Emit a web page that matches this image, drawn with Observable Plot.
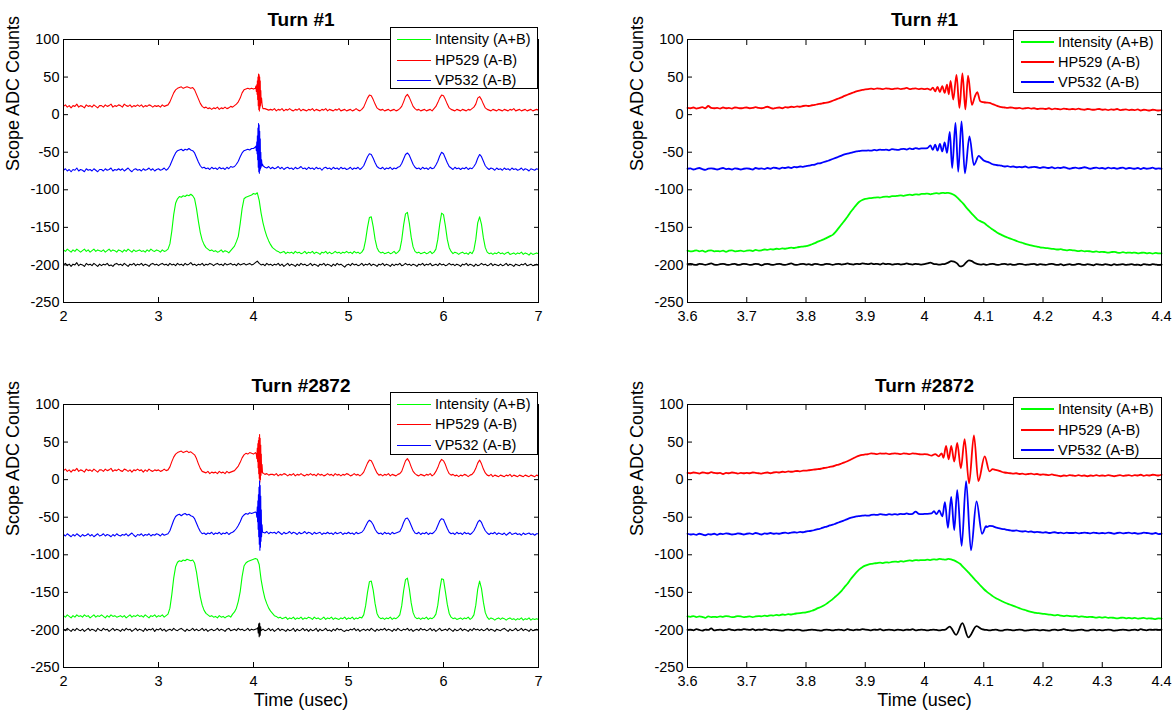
<!DOCTYPE html>
<html>
<head>
<meta charset="utf-8">
<script src="https://cdn.jsdelivr.net/npm/d3@7"></script>
<script src="https://cdn.jsdelivr.net/npm/@observablehq/plot@0.6"></script>
<style>
html, body { margin: 0; padding: 0; background: #fff; }
#root { position: relative; width: 1172px; height: 711px; overflow: hidden; font-family: "Liberation Sans", Arial, Helvetica, sans-serif; }
#root svg.panel { position: absolute; }
.legend { position: absolute; background: #fff; border: 1px solid #000; box-sizing: border-box; font-size: 14.5px; color: #000; }
.legend svg { position: absolute; left: 0; top: 0; }
.legend .lab { position: absolute; line-height: 20px; white-space: nowrap; }
</style>
</head>
<body>
<div id="root"></div>
<script>
// ---------- ticks, labels ----------
const yTicks = [-250, -200, -150, -100, -50, 0, 50, 100];
const wideTicks = [2, 3, 4, 5, 6, 7];
const narrowTicks = [3.6, 3.7, 3.8, 3.9, 4.0, 4.1, 4.2, 4.3, 4.4];
const seriesNames = ["Intensity (A+B)", "HP529 (A-B)", "VP532 (A-B)"];
const titles = ["Turn #1", "Turn #1", "Turn #2872", "Turn #2872"];

// scope sampling grids (usec)
const wideGrid = {start: 2, step: 0.02};
const narrowGrid = {start: 3.6, step: 0.005};

// ================= Turn #1, 2..7 usec =================
const redWide1 = [
 11,13,10,12,9,12,11,14,10,12,
 11,9,13,11,12,10,13,11,9,12,
 12,10,13,11,12,14,10,12,11,13,
 12,10,14,12,11,13,10,12,11,13,
 11,13,10,12,11,13,12,10,12,11,
 12,10,13,11,12,13,17,23,29,33,
 35,36,37,35,36,37,36,35,36,33,
 27,21,15,11,9,10,8,9,7,9,
 8,10,7,9,8,10,8,9,11,10,
 12,14,17,22,29,33,34,35,34,35,
 34,35,36,20,8,8,8,7,6,7,
 6,8,5,7,6,8,5,7,6,8,
 6,5,7,6,8,5,7,6,5,7,
 6,8,5,7,6,5,7,6,8,5,
 7,6,5,7,6,8,5,6,7,5,
 6,7,5,6,8,6,5,7,10,16,
 22,26,25,20,14,9,7,6,7,5,
 6,7,5,6,7,5,6,8,11,17,
 24,27,23,17,11,8,6,7,5,6,
 7,5,6,7,5,8,11,16,22,26,
 25,20,14,9,7,6,5,7,6,5,
 7,6,5,7,6,8,10,14,22,24,
 20,14,9,7,6,5,7,6,5,7,
 6,5,7,6,5,7,6,8,5,6,
 7,5,6,7,5,6,7,5,6,7,
 6];
const redWide1Burst = [[4.025,38],[4.03,31],[4.035,40],[4.038,27],[4.041,45],[4.044,20],[4.047,50],[4.05,12],[4.053,54],[4.056,7],[4.059,53],[4.062,5],[4.065,50],[4.068,9],[4.071,45],[4.074,12],[4.077,32],[4.08,16],[4.085,22],[4.09,14],[4.095,10]];

const blueWide1 = [
 -74,-72,-75,-73,-76,-73,-74,-71,-75,-73,
 -74,-76,-72,-74,-73,-75,-72,-74,-76,-73,
 -73,-75,-72,-74,-73,-71,-75,-73,-74,-72,
 -74,-72,-75,-73,-71,-74,-76,-73,-72,-74,
 -73,-75,-72,-74,-73,-71,-74,-72,-75,-73,
 -72,-74,-73,-71,-74,-72,-68,-62,-56,-51,
 -48,-47,-46,-48,-46,-47,-45,-47,-48,-51,
 -57,-63,-68,-71,-70,-72,-71,-73,-70,-72,
 -71,-73,-70,-72,-71,-73,-70,-72,-69,-70,
 -69,-66,-62,-56,-51,-48,-47,-46,-47,-45,
 -45,-43,-30,-50,-70,-68,-70,-71,-69,-72,
 -70,-72,-71,-69,-72,-70,-73,-71,-70,-72,
 -71,-73,-70,-72,-71,-69,-72,-71,-73,-70,
 -72,-71,-73,-70,-72,-71,-74,-71,-70,-72,
 -71,-73,-70,-72,-71,-73,-70,-72,-71,-73,
 -72,-70,-73,-71,-72,-70,-73,-71,-68,-62,
 -56,-52,-53,-58,-64,-69,-71,-72,-70,-73,
 -71,-72,-70,-73,-71,-72,-70,-69,-65,-59,
 -53,-51,-54,-60,-66,-70,-72,-71,-73,-70,
 -72,-71,-73,-70,-72,-71,-67,-62,-55,-50,
 -52,-58,-64,-69,-71,-73,-70,-72,-71,-73,
 -71,-72,-70,-73,-71,-72,-69,-65,-58,-53,
 -56,-62,-68,-71,-73,-71,-72,-74,-71,-73,
 -72,-74,-71,-73,-72,-74,-71,-73,-72,-74,
 -73,-71,-74,-72,-73,-75,-72,-73,-74,-72,
 -73];
const blueWide1Burst = [[4.025,-42],[4.03,-48],[4.035,-36],[4.038,-52],[4.041,-28],[4.044,-60],[4.047,-18],[4.05,-70],[4.053,-12],[4.056,-76],[4.059,-14],[4.062,-78],[4.065,-22],[4.068,-74],[4.071,-32],[4.074,-72],[4.077,-50],[4.08,-70],[4.085,-60],[4.09,-68],[4.095,-66]];

const greenWide1 = [
 -180,-182,-179,-181,-183,-180,-182,-179,-181,-183,
 -181,-179,-182,-180,-183,-181,-179,-182,-180,-181,
 -182,-180,-183,-181,-179,-182,-180,-181,-183,-180,
 -181,-183,-180,-182,-179,-181,-183,-180,-182,-181,
 -180,-182,-181,-183,-180,-182,-179,-181,-182,-180,
 -181,-183,-180,-182,-181,-179,-172,-155,-133,-118,
 -112,-109,-110,-108,-109,-107,-108,-106,-108,-112,
 -125,-142,-157,-167,-173,-177,-179,-181,-180,-182,
 -181,-183,-182,-180,-183,-181,-182,-184,-181,-178,
 -175,-169,-162,-145,-125,-112,-110,-109,-108,-107,
 -105,-106,-104,-114,-131,-144,-154,-162,-168,-173,
 -177,-179,-181,-182,-184,-183,-182,-185,-183,-184,
 -183,-185,-182,-184,-183,-185,-184,-182,-185,-183,
 -184,-182,-185,-183,-184,-186,-183,-184,-182,-185,
 -183,-185,-184,-182,-184,-183,-185,-183,-184,-182,
 -184,-183,-185,-182,-184,-183,-185,-183,-179,-167,
 -150,-137,-136,-149,-166,-177,-182,-184,-183,-185,
 -184,-183,-185,-184,-182,-185,-183,-180,-167,-147,
 -132,-130,-144,-163,-176,-182,-184,-183,-185,-184,
 -183,-185,-184,-182,-185,-183,-179,-166,-146,-131,
 -133,-148,-166,-177,-182,-185,-183,-184,-186,-184,
 -183,-185,-184,-186,-183,-185,-180,-166,-144,-136,
 -146,-164,-177,-183,-185,-184,-186,-184,-185,-183,
 -185,-184,-186,-184,-183,-186,-185,-184,-186,-184,
 -185,-183,-186,-184,-185,-187,-184,-186,-185,-184,
 -185];

const blackWide1 = [
 -200,-198,-201,-199,-202,-199,-200,-197,-201,-199,
 -200,-202,-198,-200,-199,-201,-198,-200,-202,-199,
 -201,-199,-200,-198,-201,-200,-202,-199,-198,-200,
 -199,-201,-198,-200,-202,-199,-200,-198,-201,-199,
 -200,-198,-201,-199,-200,-202,-199,-198,-200,-199,
 -201,-199,-198,-200,-199,-201,-198,-200,-199,-201,
 -198,-200,-199,-201,-198,-200,-199,-197,-200,-199,
 -201,-199,-200,-198,-201,-199,-200,-198,-199,-201,
 -199,-198,-200,-199,-201,-198,-200,-199,-198,-200,
 -199,-201,-198,-200,-199,-198,-200,-199,-198,-200,
 -199,-197,-195,-198,-200,-199,-201,-198,-200,-199,
 -201,-199,-200,-198,-201,-199,-202,-200,-198,-201,
 -199,-200,-202,-199,-201,-198,-200,-199,-201,-200,
 -198,-201,-199,-200,-202,-199,-200,-198,-201,-199,
 -200,-202,-199,-201,-198,-200,-199,-201,-203,-200,
 -199,-201,-198,-200,-199,-201,-200,-198,-201,-199,
 -200,-198,-201,-199,-200,-202,-199,-200,-198,-201,
 -199,-200,-202,-199,-201,-199,-200,-198,-201,-200,
 -198,-200,-199,-201,-199,-200,-202,-199,-200,-198,
 -201,-199,-200,-198,-201,-200,-199,-201,-198,-200,
 -199,-201,-200,-198,-200,-199,-201,-199,-200,-202,
 -199,-200,-198,-201,-199,-200,-202,-199,-201,-200,
 -198,-200,-199,-201,-200,-198,-201,-199,-200,-201,
 -199,-201,-200,-198,-201,-199,-200,-202,-199,-200,
 -201,-199,-200,-198,-201,-200,-199,-201,-200,-199,
 -200];

// ================= Turn #2872, 2..7 usec =================
const redWide2 = [
 12,14,11,13,10,13,12,15,11,13,
 12,10,14,12,13,11,14,12,10,13,
 13,11,14,12,13,15,11,13,12,14,
 12,11,14,13,11,13,10,13,12,14,
 12,13,10,13,11,14,12,11,13,12,
 13,11,12,14,12,13,17,24,30,34,
 36,37,38,36,37,38,36,37,35,33,
 28,21,15,11,10,9,11,8,10,9,
 10,8,11,9,10,8,11,9,10,11,
 12,15,18,23,29,33,35,34,36,35,
 34,36,30,15,8,9,7,8,6,7,
 7,6,8,5,7,6,8,7,5,7,
 6,8,5,7,6,8,6,5,7,6,
 8,6,7,5,8,6,7,5,6,8,
 6,7,5,8,6,7,5,7,6,8,
 7,5,6,8,6,7,5,7,10,16,
 22,26,25,20,14,9,6,7,5,7,
 6,8,5,7,6,5,7,8,11,18,
 25,28,24,17,11,8,6,5,7,6,
 5,7,6,8,5,7,11,16,23,27,
 25,20,13,8,6,7,5,6,4,6,
 5,7,6,4,6,7,10,15,22,26,
 21,14,9,6,5,7,4,6,5,4,
 6,5,4,6,5,7,4,6,5,4,
 6,5,4,6,5,4,6,5,4,6,
 5];
const redWide2Burst = [[4.03,34],[4.035,28],[4.04,42],[4.043,24],[4.046,48],[4.049,16],[4.052,52],[4.055,8],[4.058,56],[4.061,2],[4.064,60],[4.067,-3],[4.07,55],[4.073,0],[4.076,46],[4.079,6],[4.082,34],[4.085,10],[4.09,20],[4.095,9]];

const blueWide2 = [
 -73,-75,-72,-74,-76,-73,-75,-72,-74,-76,
 -73,-75,-74,-72,-75,-73,-76,-74,-72,-75,
 -74,-72,-75,-73,-74,-76,-73,-75,-72,-74,
 -75,-73,-74,-72,-75,-73,-71,-74,-76,-73,
 -74,-72,-75,-73,-74,-72,-75,-73,-74,-72,
 -73,-75,-72,-74,-73,-72,-68,-61,-54,-49,
 -47,-46,-48,-46,-45,-47,-46,-48,-49,-52,
 -58,-64,-69,-72,-71,-73,-71,-72,-70,-73,
 -71,-72,-70,-73,-71,-72,-70,-73,-71,-70,
 -68,-65,-61,-56,-50,-47,-45,-46,-44,-45,
 -44,-43,-35,-60,-72,-70,-71,-69,-72,-70,
 -71,-70,-72,-69,-71,-73,-70,-72,-71,-69,
 -72,-70,-71,-73,-70,-72,-71,-69,-72,-70,
 -71,-73,-70,-72,-71,-70,-73,-71,-72,-70,
 -72,-71,-73,-70,-72,-71,-70,-73,-71,-72,
 -70,-72,-71,-73,-70,-72,-71,-70,-67,-62,
 -57,-54,-56,-60,-66,-70,-72,-71,-73,-70,
 -72,-71,-73,-70,-72,-71,-70,-69,-64,-57,
 -52,-51,-55,-61,-67,-71,-72,-70,-73,-71,
 -72,-70,-73,-71,-72,-70,-67,-61,-55,-52,
 -53,-59,-65,-70,-72,-71,-73,-70,-72,-71,
 -73,-70,-72,-71,-73,-71,-68,-63,-57,-54,
 -57,-63,-68,-71,-73,-71,-72,-70,-73,-71,
 -72,-73,-71,-74,-72,-70,-73,-72,-71,-73,
 -72,-74,-71,-73,-72,-71,-73,-72,-74,-72,
 -72];
const blueWide2Burst = [[4.03,-44],[4.035,-50],[4.04,-36],[4.043,-56],[4.046,-28],[4.049,-66],[4.052,-20],[4.055,-76],[4.058,-10],[4.061,-86],[4.064,-2],[4.067,-94],[4.07,-8],[4.073,-90],[4.076,-22],[4.079,-82],[4.082,-40],[4.085,-76],[4.09,-60],[4.095,-70]];

const greenWide2 = [
 -181,-183,-180,-182,-184,-181,-183,-180,-182,-181,
 -183,-180,-182,-181,-184,-182,-180,-183,-181,-182,
 -180,-182,-184,-181,-183,-180,-182,-181,-183,-182,
 -181,-183,-181,-184,-182,-180,-183,-181,-182,-180,
 -182,-181,-183,-180,-182,-184,-181,-182,-180,-183,
 -181,-182,-180,-183,-181,-179,-171,-153,-131,-116,
 -110,-108,-109,-107,-108,-106,-107,-108,-107,-111,
 -123,-140,-156,-167,-174,-178,-180,-182,-181,-183,
 -182,-184,-181,-183,-182,-184,-182,-181,-183,-179,
 -176,-171,-162,-149,-129,-115,-111,-109,-108,-107,
 -106,-105,-106,-113,-133,-147,-158,-165,-171,-175,
 -178,-181,-182,-184,-183,-185,-184,-183,-186,-184,
 -185,-183,-186,-184,-185,-183,-186,-184,-185,-183,
 -184,-186,-183,-185,-184,-186,-185,-183,-186,-184,
 -185,-183,-186,-184,-185,-186,-184,-185,-183,-186,
 -184,-185,-183,-186,-184,-185,-183,-184,-180,-168,
 -150,-136,-135,-147,-165,-178,-183,-185,-184,-186,
 -184,-185,-183,-186,-184,-185,-183,-180,-168,-148,
 -133,-131,-145,-164,-177,-183,-185,-184,-186,-184,
 -185,-183,-186,-184,-185,-183,-179,-167,-147,-132,
 -133,-149,-166,-178,-183,-185,-184,-186,-185,-184,
 -186,-184,-185,-183,-186,-184,-180,-167,-146,-135,
 -145,-163,-177,-183,-186,-184,-185,-187,-185,-184,
 -186,-184,-185,-187,-185,-184,-186,-185,-187,-185,
 -186,-184,-187,-185,-186,-184,-187,-185,-186,-185,
 -186];

const blackWide2 = [
 -199,-201,-198,-200,-202,-199,-201,-198,-200,-201,
 -199,-202,-200,-198,-201,-199,-200,-202,-198,-200,
 -201,-198,-200,-199,-202,-200,-198,-201,-199,-200,
 -202,-199,-201,-198,-200,-199,-202,-200,-198,-201,
 -199,-200,-202,-198,-201,-199,-200,-198,-202,-199,
 -200,-198,-201,-199,-202,-200,-199,-201,-198,-200,
 -201,-199,-198,-200,-202,-199,-201,-200,-198,-201,
 -199,-201,-200,-198,-201,-199,-202,-200,-199,-201,
 -200,-198,-201,-199,-200,-202,-199,-198,-201,-200,
 -199,-201,-198,-200,-199,-201,-200,-198,-201,-199,
 -200,-199,-198,-201,-200,-199,-201,-200,-198,-201,
 -199,-202,-200,-198,-201,-199,-200,-202,-199,-201,
 -200,-198,-202,-199,-201,-200,-198,-201,-199,-202,
 -199,-201,-200,-198,-202,-199,-201,-200,-198,-201,
 -200,-202,-199,-201,-198,-200,-199,-201,-202,-200,
 -201,-199,-200,-198,-201,-199,-202,-200,-199,-201,
 -199,-201,-198,-200,-202,-199,-201,-199,-200,-198,
 -201,-199,-200,-202,-199,-201,-198,-200,-201,-199,
 -200,-198,-201,-199,-202,-200,-199,-201,-198,-200,
 -199,-201,-200,-198,-201,-199,-202,-200,-198,-201,
 -200,-199,-201,-198,-200,-202,-199,-201,-200,-198,
 -201,-199,-200,-202,-199,-201,-198,-200,-199,-201,
 -199,-201,-200,-198,-201,-199,-200,-202,-199,-200,
 -201,-199,-198,-200,-202,-199,-201,-200,-198,-201,
 -200,-198,-201,-199,-200,-202,-199,-201,-200,-199,
 -200];
const blackWide2Burst = [[4.045,-197],[4.05,-204],[4.055,-192],[4.06,-209],[4.065,-191],[4.07,-207],[4.075,-196],[4.08,-201]];

// ================= Turn #1, 3.6..4.4 usec =================
const redNarrow1 = [
 9,8.5,9.5,8,9,10,8.5,11.5,9,8.5,
 9,8,9.5,8.5,9,8,9.5,9,8.5,9,
 9.5,8.5,9,10,9,8.5,9.5,10.5,9,8,
 9,9.5,8.5,10,9.5,10.5,10,11,10.5,11.5,
 12,11.5,12.5,13,14,14.5,15.5,16,17,18.5,
 20,21.5,23,25,26.5,28,29.5,31,32,33,
 33.5,34,34.5,34,35,34.5,34,35,34.5,34,
 34.5,35,34,34.5,35.5,34,34.5,35,34,34.5,
 34,34,34,34,34,33,33,33,32,31,
 30,29,29,28,28,26,24,22,20,18,
 16.5,16,15.5,14,12.5,11,10,9.5,9,9.5,
 9,8.5,9,8,8.5,9,8,8.5,7.5,8,
 8,7.5,8.5,7,8,7.5,7,8,7.5,7,
 7.5,7,8,7,6.5,7.5,7,6.5,7,7.5,
 6.5,7,6,7,6.5,7.5,6,6.5,7,6,
 6.5,6,7,5.5,6.5,6,5.5,6.5,6,5.5,
 6];
const redNarrow1Burst = [[4.005,34.5],[4.01,33],[4.014,36],[4.018,31],[4.022,37],[4.026,30],[4.03,38],[4.034,29],[4.038,40],[4.041,27],[4.044,45],[4.0485,20],[4.054,53],[4.059,9],[4.064,55],[4.069,7],[4.0735,52],[4.08,13],[4.085,24],[4.089,30],[4.094,18],[4.097,17]];

const blueNarrow1 = [
 -72,-71.5,-73,-72,-71,-72.5,-73.5,-72,-71.5,-72,
 -73,-72,-71,-72.5,-72,-73,-71.5,-72,-73,-72,
 -71.5,-72,-73,-71,-72,-71.5,-72.5,-71,-72,-70.5,
 -71,-72,-70.5,-71,-70,-71,-69.5,-70,-69,-69.5,
 -68.5,-68,-67,-66.5,-65,-64.5,-63,-62,-60.5,-59,
 -57.5,-56,-54.5,-53,-52,-51,-50,-49,-48.5,-48,
 -48,-47.5,-48,-47,-47.5,-46.5,-47,-46.5,-47.5,-46,
 -46.5,-47,-46,-45.5,-46.5,-45,-46,-44.5,-45.5,-45,
 -45,-44,-45,-44,-45,-45,-44,-44,-44,-45,
 -45,-46,-46,-47,-48,-50,-53,-56,-58,-60,
 -61,-62.5,-64,-66,-67,-67.5,-68,-69,-68.5,-69.5,
 -69,-70,-69.5,-70,-69,-70.5,-70,-69.5,-70,-71,
 -70,-70.5,-71,-70,-71.5,-70.5,-71,-70,-71,-72,
 -71,-70.5,-71.5,-71,-70,-71,-72,-71,-70.5,-71.5,
 -71,-72,-70.5,-71.5,-71,-72,-71,-70.5,-72,-71,
 -71.5,-72,-71,-72.5,-71,-72,-71.5,-70.5,-72,-71.5,
 -72];
const blueNarrow1Burst = [[4.005,-44.5],[4.01,-41],[4.014,-47],[4.018,-40],[4.022,-48],[4.026,-39],[4.03,-49],[4.034,-37],[4.038,-51],[4.0427,-23],[4.0467,-71],[4.0523,-11],[4.0569,-76],[4.0625,-9],[4.0681,-78],[4.0759,-29],[4.0833,-67],[4.0917,-55],[4.096,-58]];

const greenNarrow1 = [
 -181,-182,-181.5,-180.5,-182,-181,-182.5,-181,-180.5,-182,
 -181.5,-182,-181,-182.5,-181,-180.5,-182,-181.5,-181,-182,
 -181,-180.5,-181.5,-180,-181,-180.5,-179.5,-180,-179,-179.5,
 -178.5,-179,-178,-178.5,-177.5,-177,-177.5,-176.5,-176,-175.5,
 -175,-174,-172.5,-171,-169,-167.5,-166,-164,-162,-160,
 -156,-151,-146,-141,-136,-130,-125,-120,-116,-113.5,
 -112,-111.5,-111,-110.5,-110,-110.5,-109.5,-109,-109.5,-108.5,
 -108.5,-108,-107.5,-108,-107,-106.5,-107,-106,-106.5,-105.5,
 -105.5,-105,-106,-105,-104.5,-105,-104,-104.5,-104,-105,
 -107,-110,-114,-118,-123,-127.5,-132,-136,-140,-142,
 -144,-147,-150,-153,-155.5,-158,-160,-162,-163.5,-165,
 -166.5,-168,-169.5,-170.5,-172,-173,-174,-175,-175.5,-176.5,
 -177,-177.5,-178,-178.5,-179,-179.5,-179,-180,-180.5,-180,
 -180.5,-181,-181.5,-181,-182,-181.5,-182,-182.5,-182,-183,
 -182.5,-183,-183.5,-183,-182.5,-183.5,-184,-183,-184,-183.5,
 -184,-183.5,-184.5,-184,-183.5,-184.5,-184,-185,-184,-184.5,
 -184.5];

const blackNarrow1 = [
 -199,-198.5,-199.5,-200,-198.5,-199,-200,-199,-198,-199.5,
 -200,-199,-198.5,-199.5,-200,-199,-198.5,-200,-199.5,-198.5,
 -199,-200,-199.5,-198.5,-199,-200.5,-199,-198.5,-199.5,-200,
 -199,-198.5,-199.5,-200,-199,-198,-199.5,-200,-199,-198.5,
 -199.5,-199,-200,-198.5,-199,-200,-199.5,-198.5,-199,-200,
 -199,-198.5,-199.5,-199,-198,-199,-199.5,-198.5,-199,-198,
 -198.5,-199,-198,-199,-198.5,-199.5,-198,-199,-198.5,-199.5,
 -199,-198.5,-199.5,-199,-198,-199,-199.5,-198.5,-199,-199.5,
 -199,-198,-197,-198.5,-199,-199.5,-199,-198.5,-197,-195,
 -195.5,-198,-202,-201,-197,-194,-195,-197.5,-199,-199.5,
 -199,-200,-199,-198.5,-199.5,-200,-199,-198.5,-199.5,-199,
 -200,-199.5,-198.5,-199,-200,-199.5,-199,-198.5,-200,-199,
 -199.5,-200,-199,-198.5,-199.5,-200,-199,-200.5,-199.5,-199,
 -200,-199.5,-198.5,-199.5,-200,-199,-199.5,-200.5,-199,-199.5,
 -200,-199,-199.5,-200.5,-199,-200,-199.5,-199,-200,-199.5,
 -199,-200,-199.5,-200.5,-199,-199.5,-200,-199,-199.5,-200,
 -199.5];

// ================= Turn #2872, 3.6..4.4 usec =================
const redNarrow2 = [
 9,8.5,9.5,9,8,9.5,9,8.5,10,9,
 8.5,9,7.5,9,8.5,9.5,9,8,9,8.5,
 9,8.5,9.5,9,8.5,8,9,9.5,8.5,9.5,
 10,9.5,10.5,10,11,10.5,11,11.5,11,12,
 12,12.5,13,13.5,14,14.5,15.5,16,17,17.5,
 19,20,21.5,23,24.5,26.5,28.5,30.5,32,33,
 33.5,34,35,34.5,34,35,34.5,35,34,34.5,
 35,34.5,34,35,34.5,34,35,34.5,34,33.5,
 34,33.5,34,33,32.5,33,32,33,33,33,
 32,31,30,28,27,26,28,27,26,24,
 25,20,14,14,13,12,10.5,9.5,9,8.5,
 8,8.5,7.5,8,7,7.5,8,7,7.5,6.5,
 7,6.5,6,7,6,5.5,4.5,5.5,5,6,
 5.5,5,6,5,5.5,4.5,5.5,5,6,5,
 5.5,5,6,5.5,4.5,5.5,6,5,5.5,6,
 5,6,5.5,6.5,5,6,5.5,6.5,6,5.5,
 6.5];
const redNarrow2Burst = [[4.005,33.5],[4.012,32],[4.018,34],[4.024,31],[4.029,35],[4.032,29],[4.0364,45],[4.0408,27],[4.0451,45],[4.0502,24],[4.0552,49],[4.0614,15],[4.0677,54],[4.0752,-5],[4.0834,59],[4.0909,-2],[4.1016,31],[4.1097,11],[4.115,14]];

const blueNarrow2 = [
 -72,-73,-72.5,-73.5,-72,-73,-74,-72.5,-73,-72,
 -73.5,-72,-72.5,-71.5,-72,-73,-72.5,-71.5,-72,-73,
 -72,-71.5,-72.5,-71,-72,-73,-71.5,-72,-71,-72,
 -71.5,-72,-71,-70.5,-71.5,-70.5,-70,-70.5,-69.5,-70,
 -69,-68.5,-68,-67,-66,-65,-63.5,-62.5,-61,-60,
 -58.5,-57,-55.5,-54,-52.5,-51,-50,-49,-48.5,-48,
 -47.5,-48,-47,-46.5,-47,-46,-46.5,-47,-46,-46.5,
 -46,-46.5,-45.5,-46,-45,-46,-45.5,-42.5,-45.5,-46,
 -45.5,-46,-45,-45.5,-45,-44,-46,-45,-44,-45,
 -45,-46,-47,-48,-50,-52,-55,-58,-62,-64,
 -66,-63,-61.5,-62,-63.5,-64.5,-65.5,-66,-67,-67.5,
 -68,-67.5,-68.5,-69,-68.5,-69.5,-69,-70,-69.5,-70,
 -70.5,-70,-71,-70.5,-70,-71,-70.5,-71.5,-70.5,-71,
 -71,-70.5,-71.5,-71,-70.5,-71,-71.5,-70.5,-71,-71.5,
 -71,-71.5,-70.5,-71,-72,-71,-70.5,-71.5,-71,-70.5,
 -71.5,-71,-72,-71.5,-70.5,-71,-71.5,-72,-71,-72.5,
 -72];
const blueNarrow2Burst = [[4.005,-45.5],[4.012,-45],[4.016,-42],[4.02,-46],[4.025,-41],[4.0301,-49],[4.0345,-30],[4.0395,-64],[4.0451,-23],[4.0502,-67],[4.0552,-14],[4.0627,-88],[4.0702,-2],[4.0784,-94],[4.0878,-29],[4.0972,-72],[4.104,-62]];

const greenNarrow2 = [
 -182,-182.5,-181.5,-183,-182,-182.5,-184,-182,-183,-182.5,
 -183,-182,-182.5,-181.5,-182,-183,-182.5,-181.5,-182,-183,
 -182.5,-182,-183,-182,-181.5,-182,-181,-181.5,-180.5,-181,
 -180,-180.5,-179.5,-180,-179,-179.5,-178.5,-178,-177.5,-177,
 -176.5,-175.5,-174.5,-173,-171,-169.5,-167.5,-165,-162,-159,
 -155.5,-152,-148,-143,-138.5,-133,-128,-123.5,-119.5,-116.5,
 -114.5,-113,-112,-111.5,-111,-110.5,-111,-110,-110.5,-109.5,
 -109,-109.5,-108.5,-109,-108,-107.5,-108,-107,-107.5,-107,
 -107,-106.5,-107,-106,-106.5,-105.5,-106,-106.5,-105.5,-106,
 -107.5,-109.5,-112,-116,-120,-124,-128.5,-133,-137,-141.5,
 -145.5,-149,-152,-155,-157.5,-159.5,-161.5,-163.5,-165,-166.5,
 -168,-169.5,-171,-172.5,-173.5,-175,-176,-177,-177.5,-178,
 -178.5,-179,-179.5,-180,-180.5,-180,-181,-181.5,-181,-181.5,
 -182,-181.5,-182.5,-182,-182.5,-183,-182.5,-183,-183.5,-183,
 -183.5,-183,-184,-183.5,-184,-184.5,-184,-183.5,-184.5,-184,
 -184.5,-184,-185,-184.5,-184,-185,-184.5,-185,-185.5,-184.5,
 -185];

const blackNarrow2 = [
 -200,-199.5,-200.5,-199,-200,-201,-199.5,-200,-198,-200.5,
 -200,-199.5,-200.5,-200,-199,-200,-200.5,-199.5,-200,-199,
 -199.5,-200,-199,-200.5,-199.5,-200,-199,-199.5,-200.5,-199.5,
 -200,-200.5,-201,-200,-199.5,-200,-200.5,-199.5,-200,-201,
 -200.5,-200,-199.5,-200,-200.5,-201,-200,-199.5,-200,-200.5,
 -200,-199.5,-200,-200.5,-199,-200,-200.5,-199.5,-200,-199,
 -199.5,-200,-200.5,-199.5,-200,-199,-200.5,-200,-199.5,-200,
 -200.5,-199.5,-200,-200.5,-199.5,-200,-199,-200.5,-200,-199.5,
 -200,-200.5,-200,-199.5,-200,-200.5,-200,-199,-198,-196,
 -200,-206,-202,-192,-200,-210,-203,-196,-195,-198,
 -199.5,-200,-200.5,-200,-199.5,-200.5,-201,-200,-199.5,-200,
 -200.5,-200,-199.5,-200,-201,-200.5,-200,-199.5,-200,-200.5,
 -200,-200.5,-201,-200,-199.5,-200.5,-200,-199,-200,-200.5,
 -201,-200.5,-200,-199.5,-200.5,-201,-200,-199.5,-200.5,-200,
 -200.5,-200,-199.5,-200,-201,-200.5,-200,-199.5,-200,-200.5,
 -200,-199.5,-200.5,-199,-200,-200.5,-199.5,-200,-199.5,-200,
 -199.5];
const blackNarrow2Burst = [[4.035,-199.5],[4.0426,-195.5],[4.0533,-206.5],[4.064,-191],[4.074,-210],[4.0878,-195],[4.097,-199]];

// ---------- helpers ----------
function trace(grid, values, burst = []) {
  const pts = values.map((v, i) => ({t: grid.start + i * grid.step, v}));
  if (!burst.length) return pts;
  const a = burst[0][0] - 1e-9, b = burst[burst.length - 1][0] + 1e-9;
  return [
    ...pts.filter(p => p.t < a),
    ...burst.map(([t, v]) => ({t, v})),
    ...pts.filter(p => p.t > b)
  ];
}

const COLORS = {green: "#00ff00", red: "#ff0000", blue: "#0000ff", black: "#000000"};

const panels = [
  {title: titles[0], box: {left: 0, top: 0, width: 586, height: 350}, plot: {x0: 63, x1: 538, y0: 39, y1: 302},
   xDomain: [2, 7], xTicks: wideTicks, sw: 1.1, curve: "linear", titleDy: -20, xLabel: false,
   traces: [
     {c: "green", d: trace(wideGrid, greenWide1)},
     {c: "red", d: trace(wideGrid, redWide1, redWide1Burst)},
     {c: "blue", d: trace(wideGrid, blueWide1, blueWide1Burst)},
     {c: "black", d: trace(wideGrid, blackWide1)}],
   legend: {left: 390, top: 27, width: 148, height: 62, rows: [12, 33, 53], lx0: 6, lx1: 40, tx: 44, lw: 1}},
  {title: titles[1], box: {left: 586, top: 0, width: 586, height: 350}, plot: {x0: 687, x1: 1161, y0: 39, y1: 302},
   xDomain: [3.6, 4.4], xTicks: narrowTicks, sw: 1.8, curve: "monotone-x", titleDy: -20, xLabel: false,
   traces: [
     {c: "green", d: trace(narrowGrid, greenNarrow1)},
     {c: "red", d: trace(narrowGrid, redNarrow1, redNarrow1Burst)},
     {c: "blue", d: trace(narrowGrid, blueNarrow1, blueNarrow1Burst)},
     {c: "black", d: trace(narrowGrid, blackNarrow1)}],
   legend: {left: 1013, top: 30, width: 149, height: 63, rows: [12, 32, 52], lx0: 7, lx1: 40, tx: 44, lw: 2}},
  {title: titles[2], box: {left: 0, top: 355, width: 586, height: 356}, plot: {x0: 63, x1: 538, y0: 404, y1: 667},
   xDomain: [2, 7], xTicks: wideTicks, sw: 1.1, curve: "linear", titleDy: -19, xLabel: true,
   traces: [
     {c: "green", d: trace(wideGrid, greenWide2)},
     {c: "red", d: trace(wideGrid, redWide2, redWide2Burst)},
     {c: "blue", d: trace(wideGrid, blueWide2, blueWide2Burst)},
     {c: "black", d: trace(wideGrid, blackWide2, blackWide2Burst)}],
   legend: {left: 390, top: 392, width: 148, height: 63, rows: [12, 32, 53], lx0: 6, lx1: 40, tx: 44, lw: 1}},
  {title: titles[3], box: {left: 586, top: 355, width: 586, height: 356}, plot: {x0: 687, x1: 1161, y0: 404, y1: 667},
   xDomain: [3.6, 4.4], xTicks: narrowTicks, sw: 1.8, curve: "monotone-x", titleDy: -19, xLabel: true,
   traces: [
     {c: "green", d: trace(narrowGrid, greenNarrow2)},
     {c: "red", d: trace(narrowGrid, redNarrow2, redNarrow2Burst)},
     {c: "blue", d: trace(narrowGrid, blueNarrow2, blueNarrow2Burst)},
     {c: "black", d: trace(narrowGrid, blackNarrow2, blackNarrow2Burst)}],
   legend: {left: 1013, top: 397, width: 149, height: 62, rows: [12, 33, 53], lx0: 7, lx1: 40, tx: 44, lw: 2}}
];

const root = document.getElementById("root");
const FONT = '"Liberation Sans", Arial, Helvetica, sans-serif';
const fmtX = d => String(+(+d).toFixed(1));
const NS = "http://www.w3.org/2000/svg";

for (const p of panels) {
  const W = p.box.width, H = p.box.height;
  const mL = p.plot.x0 - p.box.left, mR = p.box.left + W - p.plot.x1;
  const mT = p.plot.y0 - p.box.top, mB = p.box.top + H - p.plot.y1;
  const marks = [
    ...p.traces.map(s => Plot.line(s.d, {x: "t", y: "v", stroke: COLORS[s.c], strokeWidth: p.sw, curve: p.curve})),
    Plot.frame({stroke: "#000", strokeWidth: 1}),
    Plot.axisY(yTicks, {anchor: "left", tickSize: -5, tickPadding: 9, tickFormat: d => String(d), label: null, fontSize: 14.5}),
    Plot.axisY(yTicks, {anchor: "right", tickSize: -5, tickFormat: () => "", label: null}),
    Plot.axisX(p.xTicks, {anchor: "bottom", tickSize: -5, tickPadding: 13, tickFormat: fmtX, label: null, fontSize: 14.5}),
    Plot.axisX(p.xTicks, {anchor: "top", tickSize: -5, tickFormat: () => "", label: null}),
    Plot.text([p.title], {frameAnchor: "top", dy: p.titleDy, lineAnchor: "middle", fontSize: 19, fontWeight: "bold"}),
    Plot.text(["Scope ADC Counts"], {frameAnchor: "left", dx: -50, rotate: -90, lineAnchor: "middle", fontSize: 18})
  ];
  if (p.xLabel) marks.push(Plot.text(["Time (usec)"], {frameAnchor: "bottom", dy: 33, lineAnchor: "middle", fontSize: 18}));
  const svg = Plot.plot({
    width: W, height: H,
    marginLeft: mL, marginRight: mR, marginTop: mT, marginBottom: mB,
    style: {fontFamily: FONT, fontSize: "14.5px", color: "#000", background: "transparent", overflow: "visible"},
    x: {domain: p.xDomain, label: null},
    y: {domain: [-250, 100], label: null},
    marks
  });
  svg.classList.add("panel");
  svg.style.left = p.box.left + "px";
  svg.style.top = p.box.top + "px";
  root.appendChild(svg);

  // legend box (swatch lines drawn as svg lines, labels as text)
  const L = p.legend;
  const box = document.createElement("div");
  box.className = "legend";
  Object.assign(box.style, {left: L.left + "px", top: L.top + "px", width: L.width + "px", height: L.height + "px"});
  const sw = document.createElementNS(NS, "svg");
  sw.setAttribute("width", L.width - 2);
  sw.setAttribute("height", L.height - 2);
  ["green", "red", "blue"].forEach((c, i) => {
    const yy = L.rows[i] - 1 + (L.lw % 2 ? 0.5 : 0);
    const ln = document.createElementNS(NS, "line");
    ln.setAttribute("x1", L.lx0); ln.setAttribute("x2", L.lx1);
    ln.setAttribute("y1", Math.floor(yy) + (L.lw % 2 ? 0.5 : 0));
    ln.setAttribute("y2", Math.floor(yy) + (L.lw % 2 ? 0.5 : 0));
    ln.setAttribute("stroke", COLORS[c]);
    ln.setAttribute("stroke-width", L.lw);
    sw.appendChild(ln);
    const lab = document.createElement("div");
    lab.className = "lab";
    lab.textContent = seriesNames[i];
    Object.assign(lab.style, {left: L.tx + "px", top: (L.rows[i] - 11) + "px"});
    box.appendChild(lab);
  });
  box.appendChild(sw);
  root.appendChild(box);
}
</script>
</body>
</html>
